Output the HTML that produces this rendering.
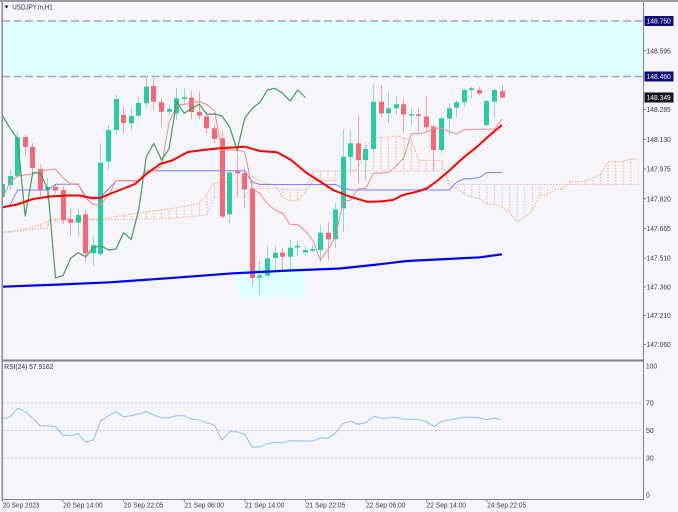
<!DOCTYPE html>
<html><head><meta charset="utf-8">
<style>html,body{margin:0;padding:0;background:#f5f5fa;}svg{display:block}</style>
</head><body>
<svg width="678" height="512" viewBox="0 0 678 512" xmlns="http://www.w3.org/2000/svg" font-family="'Liberation Sans', sans-serif">
<defs>
<clipPath id="cm"><rect x="2.5" y="2" width="640.5" height="357.5"/></clipPath>
<clipPath id="cp"><rect x="0" y="0" width="447" height="360"/><rect x="567" y="0" width="80" height="360"/></clipPath>
<clipPath id="ct"><rect x="447" y="0" width="120" height="360"/></clipPath>
<pattern id="hp" patternUnits="userSpaceOnUse" x="2" y="0" width="7.57" height="3"><rect x="0" y="0" width="1" height="1.5" fill="#f3b389"/></pattern>
<pattern id="ht" patternUnits="userSpaceOnUse" x="2" y="0" width="7.57" height="3"><rect x="0" y="0" width="1" height="1.5" fill="#d9c0cc"/></pattern>
</defs>
<rect x="0" y="0" width="678" height="512" fill="#f5f5fa"/>

<g clip-path="url(#cm)">
<rect x="2" y="21" width="642" height="55.5" fill="#e0ffff"/>
<line x1="2" y1="21" x2="643" y2="21" stroke="#a2a2d4" stroke-width="1.5" stroke-dasharray="8,3.5"/>
<line x1="2" y1="76.5" x2="643" y2="76.5" stroke="#a2a2d4" stroke-width="1.5" stroke-dasharray="8,3.5"/>
<rect x="237" y="267" width="68" height="30" fill="#e0ffff"/>

<g>
<polygon clip-path="url(#cp)" fill="url(#hp)" points="2,232 20,230 33,227 47,222 50,219 100,219 146.7,211.7 173,208.3 191.7,205 199.3,202.8 206.9,193.5 214.5,183 222,182.5 229.6,182 237.2,180.5 244.7,180 252.3,176.7 259.9,181 267.4,184 275,184.2 282.6,197.7 290.2,200.8 297.7,200.7 305.3,192.3 312.9,180.6 320.4,180.6 328,180.6 335.6,180.6 343.2,170.9 350.7,170.9 358.3,168.4 365.9,146.9 373.4,138.1 381,137.6 388.6,136.9 396.1,136 403.7,137.7 411.3,140.6 418.9,160.4 426.4,160.4 434,160.4 441.6,160.4 449.1,185.2 456.7,188.8 464.3,193.8 471.8,197 479.4,198.7 487,204.3 494.6,204.3 502.1,207.5 509.7,212.3 517.3,222 524.8,216.7 532.4,210.7 540,194.5 547.5,195 555.1,189.3 562.7,189.3 570.2,181.6 577.8,181.6 585.4,181.1 593,178 600.5,174 608.1,161.9 615.7,161.9 623.2,161.1 630.8,159 638.4,159.2 638.4,184.5 456.7,184.5 449.1,180.7 441.6,171 312.9,171 305.3,190 252.3,188 244.7,196.7 214.5,196.7 207,215 170,218.5 50,221 47,228 20,231 2,233"/>
<polygon clip-path="url(#ct)" fill="url(#ht)" points="2,232 20,230 33,227 47,222 50,219 100,219 146.7,211.7 173,208.3 191.7,205 199.3,202.8 206.9,193.5 214.5,183 222,182.5 229.6,182 237.2,180.5 244.7,180 252.3,176.7 259.9,181 267.4,184 275,184.2 282.6,197.7 290.2,200.8 297.7,200.7 305.3,192.3 312.9,180.6 320.4,180.6 328,180.6 335.6,180.6 343.2,170.9 350.7,170.9 358.3,168.4 365.9,146.9 373.4,138.1 381,137.6 388.6,136.9 396.1,136 403.7,137.7 411.3,140.6 418.9,160.4 426.4,160.4 434,160.4 441.6,160.4 449.1,185.2 456.7,188.8 464.3,193.8 471.8,197 479.4,198.7 487,204.3 494.6,204.3 502.1,207.5 509.7,212.3 517.3,222 524.8,216.7 532.4,210.7 540,194.5 547.5,195 555.1,189.3 562.7,189.3 570.2,181.6 577.8,181.6 585.4,181.1 593,178 600.5,174 608.1,161.9 615.7,161.9 623.2,161.1 630.8,159 638.4,159.2 638.4,184.5 456.7,184.5 449.1,180.7 441.6,171 312.9,171 305.3,190 252.3,188 244.7,196.7 214.5,196.7 207,215 170,218.5 50,221 47,228 20,231 2,233"/>
<polyline fill="none" stroke="#f2ad7e" stroke-width="1" stroke-dasharray="1.5,1.5" points="2,232 20,230 33,227 47,222 50,219 100,219 146.7,211.7 173,208.3 191.7,205 199.3,202.8 206.9,193.5 214.5,183 222,182.5 229.6,182 237.2,180.5 244.7,180 252.3,176.7 259.9,181 267.4,184 275,184.2 282.6,197.7 290.2,200.8 297.7,200.7 305.3,192.3 312.9,180.6 320.4,180.6 328,180.6 335.6,180.6 343.2,170.9 350.7,170.9 358.3,168.4 365.9,146.9 373.4,138.1 381,137.6 388.6,136.9 396.1,136 403.7,137.7 411.3,140.6 418.9,160.4 426.4,160.4 434,160.4 441.6,160.4 449.1,185.2 456.7,188.8 464.3,193.8 471.8,197 479.4,198.7 487,204.3 494.6,204.3 502.1,207.5 509.7,212.3 517.3,222 524.8,216.7 532.4,210.7 540,194.5 547.5,195 555.1,189.3 562.7,189.3 570.2,181.6 577.8,181.6 585.4,181.1 593,178 600.5,174 608.1,161.9 615.7,161.9 623.2,161.1 630.8,159 638.4,159.2"/>
<polyline fill="none" stroke="#e0bcbc" stroke-width="1" stroke-dasharray="1.5,1.5" points="2,233 20,231 47,228 50,221 170,218.5 207,215 214.5,196.7 244.7,196.7 252.3,188 305.3,190 312.9,171 441.6,171 449.1,180.7 456.7,184.5 638.4,184.5"/>
</g>

<g fill="#86dfca">
<rect x="2" y="178" width="1" height="22"/><rect x="10" y="170" width="1" height="20"/><rect x="17" y="131.5" width="1" height="46.5"/><rect x="47" y="178" width="1" height="22"/><rect x="78" y="209" width="1" height="27.7"/><rect x="93" y="237" width="1" height="29"/><rect x="100" y="142.7" width="1" height="113.3"/><rect x="108" y="125" width="1" height="45"/><rect x="116" y="95" width="1" height="40"/><rect x="131" y="107" width="1" height="23"/><rect x="138" y="98" width="1" height="20"/><rect x="146" y="76" width="1" height="31"/><rect x="169" y="105" width="1" height="11"/><rect x="176" y="88" width="1" height="32"/><rect x="184" y="88" width="1" height="16"/><rect x="229" y="170" width="1" height="53.3"/><rect x="259" y="260" width="1" height="35"/><rect x="267" y="246" width="1" height="30.7"/><rect x="275" y="246" width="1" height="24"/><rect x="290" y="240" width="1" height="30"/><rect x="297" y="241" width="1" height="15"/><rect x="305" y="246" width="1" height="10"/><rect x="312" y="245" width="1" height="7"/><rect x="320" y="225" width="1" height="37"/><rect x="335" y="203" width="1" height="45"/><rect x="343" y="130" width="1" height="101.7"/><rect x="350" y="130" width="1" height="43.3"/><rect x="365" y="145" width="1" height="35"/><rect x="373" y="84.3" width="1" height="67.4"/><rect x="388" y="91.7" width="1" height="31.3"/><rect x="396" y="96" width="1" height="19"/><rect x="411" y="108.3" width="1" height="16.7"/><rect x="441" y="116.7" width="1" height="36.6"/><rect x="449" y="103" width="1" height="32"/><rect x="456" y="100" width="1" height="17.5"/><rect x="464" y="88.3" width="1" height="18.4"/><rect x="471" y="86.7" width="1" height="11.6"/><rect x="486" y="100" width="1" height="26.7"/><rect x="494" y="88.3" width="1" height="29.2"/>
</g>
<g fill="#f5a0a8">
<rect x="25" y="135" width="1" height="22"/><rect x="32" y="143" width="1" height="29"/><rect x="40" y="164.5" width="1" height="31.5"/><rect x="55" y="184" width="1" height="10"/><rect x="63" y="186" width="1" height="38"/><rect x="70" y="209" width="1" height="27"/><rect x="85" y="210" width="1" height="51.7"/><rect x="123" y="107" width="1" height="25.7"/><rect x="153" y="78" width="1" height="32"/><rect x="161" y="98" width="1" height="28.7"/><rect x="191" y="91" width="1" height="28"/><rect x="199" y="92" width="1" height="27.3"/><rect x="206" y="112" width="1" height="21.3"/><rect x="214" y="125" width="1" height="18"/><rect x="222" y="131.7" width="1" height="86.3"/><rect x="237" y="154" width="1" height="42.7"/><rect x="244" y="167.3" width="1" height="41"/><rect x="252" y="186" width="1" height="99.5"/><rect x="282" y="248" width="1" height="23.7"/><rect x="328" y="222" width="1" height="38"/><rect x="358" y="115" width="1" height="68.3"/><rect x="381" y="85" width="1" height="31.7"/><rect x="403" y="98.3" width="1" height="34.7"/><rect x="418" y="107.5" width="1" height="24.2"/><rect x="426" y="96.5" width="1" height="35.2"/><rect x="433" y="125" width="1" height="46.7"/><rect x="479" y="86.7" width="1" height="8.3"/><rect x="502" y="85" width="1" height="13"/>
</g>
<g fill="#28cda5">
<rect x="0" y="184" width="5" height="13"/><rect x="8" y="176" width="5" height="9"/><rect x="15" y="137.5" width="5" height="38.5"/><rect x="45" y="187" width="5" height="3"/><rect x="76" y="215" width="5" height="7.7"/><rect x="91" y="245" width="5" height="8.3"/><rect x="98" y="162.7" width="5" height="91.3"/><rect x="106" y="130" width="5" height="31.5"/><rect x="114" y="99" width="5" height="31"/><rect x="129" y="116" width="5" height="7.3"/><rect x="136" y="103" width="5" height="12.7"/><rect x="144" y="86.7" width="5" height="16.6"/><rect x="167" y="109" width="5" height="2.7"/><rect x="174" y="98.3" width="5" height="15"/><rect x="182" y="97.3" width="5" height="1.7"/><rect x="227" y="172.5" width="5" height="41.8"/><rect x="257" y="275.5" width="5" height="2.2"/><rect x="265" y="258.3" width="5" height="17.2"/><rect x="273" y="252.7" width="5" height="5.3"/><rect x="288" y="247.7" width="5" height="9"/><rect x="295" y="245.7" width="5" height="1.8"/><rect x="303" y="250" width="5" height="2.3"/><rect x="310" y="249" width="5" height="1.7"/><rect x="318" y="232.7" width="5" height="17.3"/><rect x="333" y="209.3" width="5" height="29.9"/><rect x="341" y="156.7" width="5" height="51.6"/><rect x="348" y="143.3" width="5" height="13.7"/><rect x="363" y="149" width="5" height="11"/><rect x="371" y="101.7" width="5" height="47.3"/><rect x="386" y="108.3" width="5" height="5"/><rect x="394" y="104.3" width="5" height="4"/><rect x="409" y="114" width="5" height="1.5"/><rect x="439" y="118.3" width="5" height="31.7"/><rect x="447" y="108.3" width="5" height="10.4"/><rect x="454" y="102.3" width="5" height="5.4"/><rect x="462" y="90" width="5" height="12.3"/><rect x="469" y="88.3" width="5" height="1.7"/><rect x="484" y="101" width="5" height="24"/><rect x="492" y="90" width="5" height="11.7"/>
</g>
<g fill="#f76874">
<rect x="23" y="137" width="5" height="10"/><rect x="30" y="147" width="5" height="21"/><rect x="38" y="169" width="5" height="21"/><rect x="53" y="187" width="5" height="3.5"/><rect x="61" y="190" width="5" height="30"/><rect x="68" y="219.3" width="5" height="3.4"/><rect x="83" y="214.3" width="5" height="39"/><rect x="121" y="115" width="5" height="8"/><rect x="151" y="86" width="5" height="15.7"/><rect x="159" y="102.3" width="5" height="9.4"/><rect x="189" y="97.7" width="5" height="14.3"/><rect x="197" y="111.7" width="5" height="4"/><rect x="204" y="116.3" width="5" height="12"/><rect x="212" y="128.3" width="5" height="10.7"/><rect x="220" y="138.3" width="5" height="78.2"/><rect x="235" y="171.3" width="5" height="2"/><rect x="242" y="173" width="5" height="16.5"/><rect x="250" y="188.7" width="5" height="89.3"/><rect x="280" y="252.7" width="5" height="4"/><rect x="326" y="232.7" width="5" height="6.6"/><rect x="356" y="143.3" width="5" height="16.7"/><rect x="379" y="101.7" width="5" height="11.6"/><rect x="401" y="104.3" width="5" height="10.2"/><rect x="416" y="114.3" width="5" height="1.7"/><rect x="424" y="116.5" width="5" height="10.5"/><rect x="431" y="126.5" width="5" height="23.5"/><rect x="477" y="90" width="5" height="3.5"/><rect x="500" y="91" width="5" height="6.5"/>
</g>

<polyline fill="none" stroke="#8080f8" stroke-width="1" points="2.5,207 10.1,205 17.6,190 47.9,190 55.5,184.3 78.2,184.3 85.8,197 100.9,197 108.5,189 116,180.7 138.8,180.7 146.3,170.7 244.7,170.7 252.3,182 259.9,184.5 335.6,184.5 343.2,188 350.7,190 449.1,190 456.7,182 464.3,179 471.8,178.5 479.4,177.5 487,172.5 502.1,172.5"/>
<polyline fill="none" stroke="#f28a8a" stroke-width="1" points="2.5,198.5 10.1,182 17.6,176 25.2,175 32.8,174 40.4,171 47.9,170 55.5,169 63.1,177.8 70.6,183.8 78.2,184 85.8,198.3 93.3,204.5 100.9,204.4 108.5,195.5 116,180.5 138.8,180.5 146.3,171 153.9,171 161.5,166 169,123 176.6,105.5 184.2,104.4 191.7,103 199.3,101.4 206.9,104.7 214.5,110.5 222,150 237.2,150 244.7,152 252.3,188.3 259.9,193.5 267.4,203.5 275,210 282.6,213.3 290.2,224.5 297.7,224.5 305.3,231 312.9,240.5 320.4,260 328,249.3 335.6,237.3 343.2,200.9 350.7,200 358.3,188.5 365.9,188.5 373.4,173.2 381,173.2 388.6,172.2 396.1,166 403.7,158 411.3,133.8 418.9,133.8 426.4,132.2 434,128 441.6,128.4 449.1,131.7 456.7,133.9 464.3,130 471.8,129.2 494.6,129.2 502.1,119.2"/>
<polyline fill="none" stroke="#3f9d62" stroke-width="1.2" points="2.5,115.7 10.1,128.3 17.6,139 25.2,216.5 32.8,172.5 40.4,173.3 47.9,189.5 55.5,278 63.1,275.5 70.6,258.3 78.2,252.7 85.8,256.7 93.3,247.7 100.9,245.7 108.5,250 116,249 123.6,232.7 131.2,239.3 138.8,209.3 146.3,156.7 153.9,143.3 161.5,160 169,149 176.6,101.7 184.2,113.3 191.7,108.3 199.3,104.3 206.9,114.5 214.5,114 222,116 229.6,127 237.2,150 244.7,118.3 252.3,108.3 259.9,102.3 267.4,90 275,88.3 282.6,93.5 290.2,101 297.7,90 305.3,97.5"/>
<polyline fill="none" stroke="#ff0000" stroke-width="2" stroke-linejoin="round" points="2,207.5 17,204.5 33,199 50,196.5 67,195.5 80,195.5 92,198.3 100,198 112,193 125,188 135,184 147,173.5 160,164 172,160.5 188,152 203,150 220,148.3 233,147.5 245,146.7 260,151 277,152.2 291,160 306,172.5 320,181.5 333,190 350,196.7 367,201.7 380,201.5 393,200 403,195 417,191.7 427,188.3 437,181 450,170 463,158 477,146.7 490,135 502,125"/>
<polyline fill="none" stroke="#0000ff" stroke-width="2.2" stroke-linejoin="round" points="2,286.7 60,284.5 110,282.3 167,278.3 233,273.3 290,270.5 340,268.5 373,265 407,261 440,259.4 480,257.3 502,254.3"/>
</g>

<g stroke="#c8c8d2" stroke-width="1" stroke-dasharray="2,2">
<line x1="3" y1="403" x2="643" y2="403"/>
<line x1="3" y1="430.5" x2="643" y2="430.5"/>
<line x1="3" y1="458" x2="643" y2="458"/>
</g>
<polyline fill="none" stroke="#86c3f2" stroke-width="1" points="2.5,419.3 10.1,416.7 17.6,408.3 25.2,411.7 32.8,418.3 40.4,426 47.9,425.7 55.5,426.7 63.1,435 70.6,435.7 78.2,433.7 85.8,442.3 93.3,440 100.9,420.7 108.5,415.7 116,411.7 123.6,416.7 131.2,415.7 138.8,414 146.3,411.7 153.9,415 161.5,418 169,417.7 176.6,415.7 184.2,415.7 191.7,419 199.3,420 206.9,422.7 214.5,425.3 222,440 229.6,431.7 237.2,431.7 244.7,434.3 252.3,447.3 259.9,446.7 267.4,443.7 275,442.3 282.6,442.7 290.2,440.7 297.7,440.7 305.3,441 312.9,441 320.4,437.7 328,438.3 335.6,432.7 343.2,423.5 350.7,421 358.3,424.3 365.9,422.7 373.4,416.3 381,418.3 388.6,418 396.1,417.3 403.7,419.3 411.3,419.3 418.9,419.7 426.4,421.7 434,426.7 441.6,421.3 449.1,420 456.7,418.7 464.3,417.3 471.8,417.3 479.4,418 487,419.7 494.6,418 502.1,419.7"/>

<rect x="0" y="0" width="678" height="2" fill="#9a9aa2"/>
<rect x="1.5" y="2" width="1.5" height="498" fill="#8c8c96"/>
<rect x="643" y="2" width="1" height="498" fill="#80808a"/>
<rect x="2" y="359.5" width="642" height="2" fill="#80808a"/>
<rect x="2" y="499" width="642" height="1" fill="#80808a"/>

<g fill="#80808a">
<rect x="644" y="50.2" width="2" height="1"/><rect x="644" y="109.1" width="2" height="1"/><rect x="644" y="138.8" width="2" height="1"/><rect x="644" y="168.5" width="2" height="1"/><rect x="644" y="198.2" width="2" height="1"/><rect x="644" y="227.9" width="2" height="1"/><rect x="644" y="257.6" width="2" height="1"/><rect x="644" y="286.4" width="2" height="1"/><rect x="644" y="315.1" width="2" height="1"/><rect x="644" y="343.9" width="2" height="1"/>
<rect x="2" y="500" width="1" height="2"/><rect x="62.6" y="500" width="1" height="2"/><rect x="123.2" y="500" width="1" height="2"/><rect x="183.8" y="500" width="1" height="2"/><rect x="244.4" y="500" width="1" height="2"/><rect x="305" y="500" width="1" height="2"/><rect x="365.5" y="500" width="1" height="2"/><rect x="426" y="500" width="1" height="2"/><rect x="486.5" y="500" width="1" height="2"/>
</g>

<polygon points="4.5,5.5 8.5,5.5 6.5,8.5" fill="#202020"/>
<text x="12.3" y="9.5" font-size="7.3" fill="#303040" textLength="40.4" lengthAdjust="spacingAndGlyphs">USDJPY.m,H1</text>
<text x="4.3" y="369" font-size="7.3" fill="#303040" textLength="49" lengthAdjust="spacingAndGlyphs">RSI(24) 57.9162</text>

<g font-size="7.3" fill="#3a3a48">
<text x="646.5" y="53.3" textLength="24.3" lengthAdjust="spacingAndGlyphs">148.595</text>
<text x="646.5" y="112.2" textLength="24.3" lengthAdjust="spacingAndGlyphs">148.285</text>
<text x="646.5" y="141.9" textLength="24.3" lengthAdjust="spacingAndGlyphs">148.130</text>
<text x="646.5" y="171.6" textLength="24.3" lengthAdjust="spacingAndGlyphs">147.975</text>
<text x="646.5" y="201.3" textLength="24.3" lengthAdjust="spacingAndGlyphs">147.820</text>
<text x="646.5" y="231" textLength="24.3" lengthAdjust="spacingAndGlyphs">147.665</text>
<text x="646.5" y="260.7" textLength="24.3" lengthAdjust="spacingAndGlyphs">147.510</text>
<text x="646.5" y="289.5" textLength="24.3" lengthAdjust="spacingAndGlyphs">147.360</text>
<text x="646.5" y="318.2" textLength="24.3" lengthAdjust="spacingAndGlyphs">147.210</text>
<text x="646.5" y="347" textLength="24.3" lengthAdjust="spacingAndGlyphs">147.060</text>
<text x="646" y="368.3" textLength="11" lengthAdjust="spacingAndGlyphs">100</text>
<text x="646" y="405.6" textLength="7.7" lengthAdjust="spacingAndGlyphs">70</text>
<text x="646" y="433" textLength="7.7" lengthAdjust="spacingAndGlyphs">50</text>
<text x="646" y="460.6" textLength="7.7" lengthAdjust="spacingAndGlyphs">30</text>
<text x="646" y="497.6" textLength="3.8" lengthAdjust="spacingAndGlyphs">0</text>
</g>
<rect x="644.5" y="16" width="29" height="10" fill="#0c0c74"/>
<text x="646.5" y="23.6" font-size="7.3" fill="#ffffff" textLength="24.3" lengthAdjust="spacingAndGlyphs">148.750</text>
<rect x="644.5" y="71.5" width="29" height="10" fill="#0c0c74"/>
<text x="646.5" y="79.1" font-size="7.3" fill="#ffffff" textLength="24.3" lengthAdjust="spacingAndGlyphs">148.460</text>
<rect x="644.5" y="92.5" width="29" height="10" fill="#141418"/>
<text x="646.5" y="100.1" font-size="7.3" fill="#ffffff" textLength="24.3" lengthAdjust="spacingAndGlyphs">148.349</text>

<g font-size="7.3" fill="#3a3a48">
<text x="2.7" y="507.3" textLength="36.7" lengthAdjust="spacingAndGlyphs">20 Sep 2023</text>
<text x="63.3" y="507.3" textLength="39.4" lengthAdjust="spacingAndGlyphs">20 Sep 14:00</text>
<text x="123.9" y="507.3" textLength="39.6" lengthAdjust="spacingAndGlyphs">20 Sep 22:05</text>
<text x="184.4" y="507.3" textLength="39.6" lengthAdjust="spacingAndGlyphs">21 Sep 06:00</text>
<text x="245" y="507.3" textLength="39.4" lengthAdjust="spacingAndGlyphs">21 Sep 14:00</text>
<text x="305.7" y="507.3" textLength="39.6" lengthAdjust="spacingAndGlyphs">21 Sep 22:05</text>
<text x="366" y="507.3" textLength="39.4" lengthAdjust="spacingAndGlyphs">22 Sep 06:00</text>
<text x="426.6" y="507.3" textLength="39.4" lengthAdjust="spacingAndGlyphs">22 Sep 14:00</text>
<text x="487.2" y="507.3" textLength="39" lengthAdjust="spacingAndGlyphs">24 Sep 22:05</text>
</g>
</svg>
</body></html>
